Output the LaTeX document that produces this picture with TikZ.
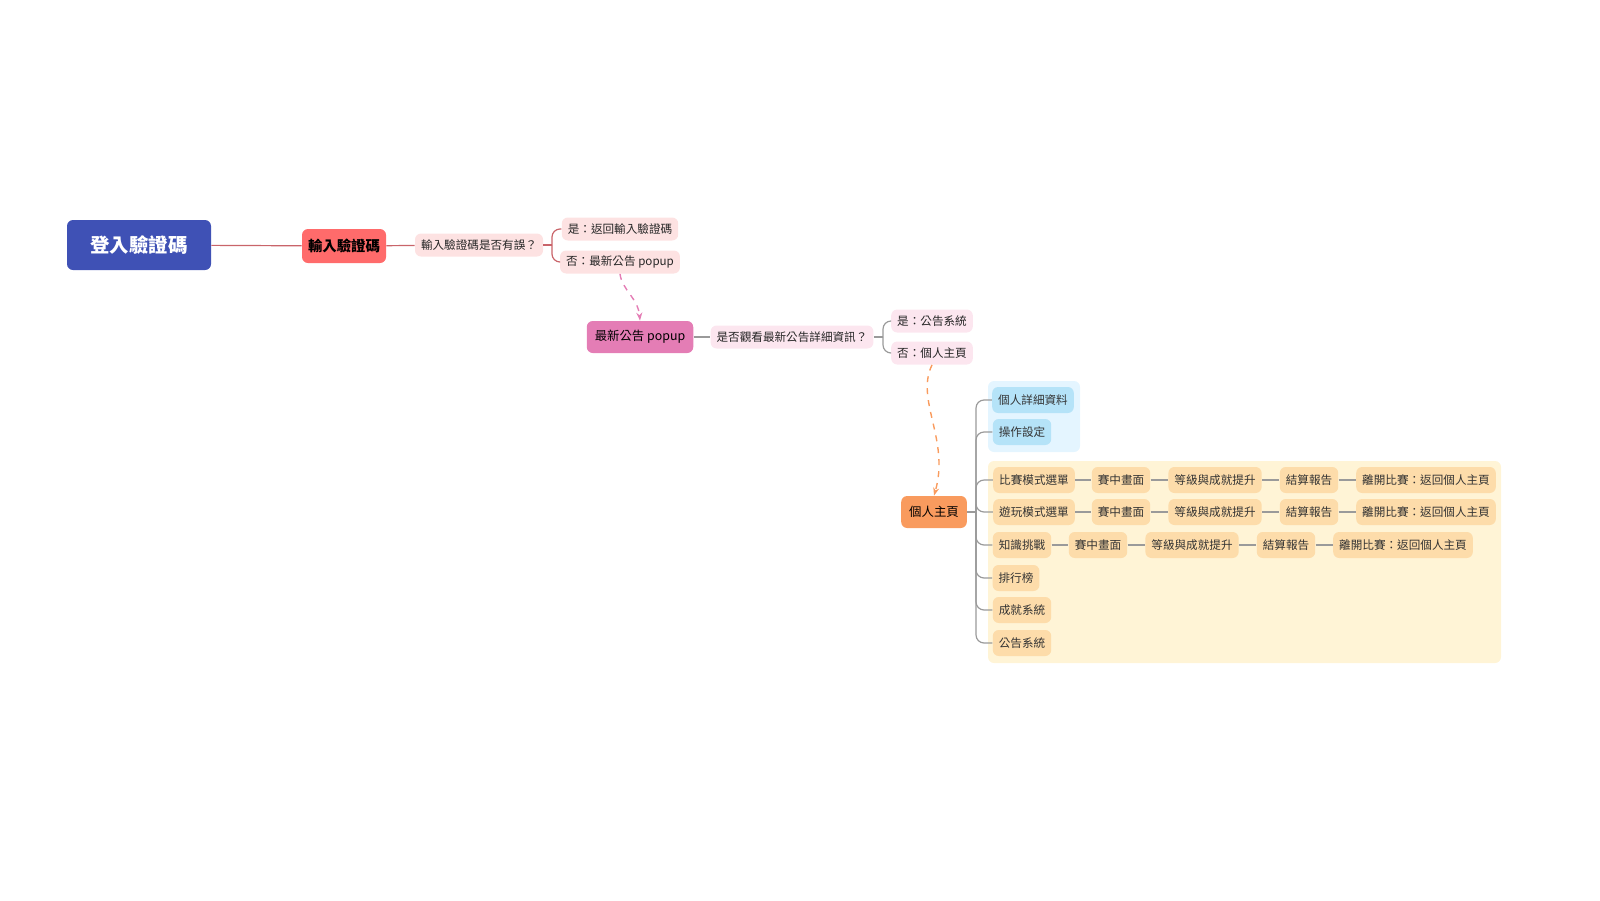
\documentclass[tikz,border=0pt]{standalone}
\usepackage{fontspec}
\setmainfont{Noto Sans CJK TC}
\usetikzlibrary{arrows.meta,positioning}
\definecolor{rootblue}{HTML}{3F51B5}
\definecolor{redmain}{HTML}{FF6B6B}
\definecolor{redlight}{HTML}{FDE2E2}
\definecolor{redline}{HTML}{C9646A}
\definecolor{pinkmain}{HTML}{E47DB5}
\definecolor{pinklight}{HTML}{FCE6EF}
\definecolor{orangemain}{HTML}{F99B5E}
\definecolor{orangelight}{HTML}{FDDCAA}
\definecolor{bluelight}{HTML}{B5E3F8}
\definecolor{blueregion}{HTML}{E4F5FF}
\definecolor{yellowregion}{HTML}{FFF4D6}
\definecolor{grayline}{HTML}{9A9A9A}
\tikzset{
    raw topic/.style={rectangle, rounded corners=3pt, align=center, inner xsep=3pt, inner ysep=0pt},
    root topic/.style={raw topic, fill=rootblue, text=white, font=\fontsize{9.7}{11}\selectfont\bfseries, minimum width=72pt, minimum height=25pt},
    main topic/.style={raw topic, fill=redmain, font=\fontsize{7.2}{9}\selectfont\bfseries, minimum height=17pt},
    sub red/.style={raw topic, fill=redlight, text=black!85, font=\fontsize{5.8}{7}\selectfont, minimum height=11.5pt},
    pink topic/.style={raw topic, fill=pinkmain, font=\fontsize{6.2}{7}\selectfont, minimum height=16pt, inner xsep=4pt},
    sub pink/.style={raw topic, fill=pinklight, text=black!85, font=\fontsize{5.8}{7}\selectfont, minimum height=11.5pt},
    orange topic/.style={raw topic, fill=orangemain, font=\fontsize{6.2}{7}\selectfont, minimum height=16pt, inner xsep=4pt},
    sub blue/.style={raw topic, fill=bluelight, text=black!80, font=\fontsize{5.8}{7}\selectfont, minimum height=13pt},
    sub orange/.style={raw topic, fill=orangelight, text=black!80, font=\fontsize{5.8}{7}\selectfont, minimum height=13pt},
    red link/.style={draw=redline, line width=0.6pt},
    gray link/.style={draw=grayline, line width=0.6pt},
    branch/.style={gray link, rounded corners=4pt}
}
\begin{document}
\begin{tikzpicture}[x=0.5pt, y=-0.5pt]
    \useasboundingbox (0,0) rectangle (1600,900);
    % regions
    \fill[blueregion, rounded corners=3pt] (988,381) rectangle (1080,452);
    \fill[yellowregion, rounded corners=3pt] (988,461) rectangle (1501,663);

    % first part
    \node[root topic] (login) at (139,245) {登入驗證碼};
    \node[main topic] (input) at (344,246) {輸入驗證碼};
    \node[sub red] (check) at (479,245) {輸入驗證碼是否有誤？};
    \node[sub red] (yes1) at (620,229) {是：返回輸入驗證碼};
    \node[sub red] (no1) at (620,262) {否：最新公告 popup};
    \draw[red link] (login) -- (input);
    \draw[red link] (input) -- (check);
    \coordinate (fork1) at (552,245);
    \draw[red link] (check) -- (fork1);
    \draw[red link, rounded corners=4pt] (fork1) |- (yes1.west);
    \draw[red link, rounded corners=4pt] (fork1) |- (no1.west);

    % popup
    \node[pink topic] (popup) at (640,337) {最新公告 popup};
    \node[sub pink] (view) at (792,337) {是否觀看最新公告詳細資訊？};
    \node[sub pink] (yes2) at (932,321) {是：公告系統};
    \node[sub pink] (no2) at (932,353) {否：個人主頁};
    \draw[gray link] (popup) -- (view);
    \coordinate (fork2) at (883,337);
    \draw[gray link] (view) -- (fork2);
    \draw[branch] (fork2) |- (yes2.west);
    \draw[branch] (fork2) |- (no2.west);
    \draw[pinkmain, line width=0.7pt, dashed, -{Stealth[length=4pt]}]
        (no1.south) .. controls (622,290) and (638,298) .. (popup.north);

    % home
    \node[orange topic] (home) at (934,512) {個人主頁};
    \draw[orangemain, line width=0.7pt, dashed, -{Stealth[length=4pt]}]
        (no2.south) .. controls (915,400) and (950,440) .. (home.north);
    \coordinate (trunk) at (976,512);
    \draw[gray link] (home) -- (trunk);

    \node[sub blue] (profile) at (1033,400) {個人詳細資料};
    \node[sub blue] (settings) at (1022,432) {操作設定};
    \node[sub orange] (match) at (1034,480) {比賽模式選單};
    \node[sub orange] (play) at (1034,512) {遊玩模式選單};
    \node[sub orange] (quiz) at (1022,545) {知識挑戰};
    \node[sub orange] (rank) at (1016,578) {排行榜};
    \node[sub orange] (achieve) at (1022,610) {成就系統};
    \node[sub orange] (news) at (1022,643) {公告系統};
    \foreach \n in {profile,settings,match,play,quiz,rank,achieve,news}
        \draw[branch] (trunk) |- (\n.west);

    % chains
    \foreach \r/\y/\a/\b/\c/\d in {match/480/1121/1215/1309/1426, play/512/1121/1215/1309/1426, quiz/545/1098/1192/1286/1403} {
        \node[sub orange] (\r-game) at (\a,\y) {賽中畫面};
        \node[sub orange] (\r-level) at (\b,\y) {等級與成就提升};
        \node[sub orange] (\r-report) at (\c,\y) {結算報告};
        \node[sub orange] (\r-leave) at (\d,\y) {離開比賽：返回個人主頁};
        \draw[gray link] (\r) -- (\r-game);
        \draw[gray link] (\r-game) -- (\r-level);
        \draw[gray link] (\r-level) -- (\r-report);
        \draw[gray link] (\r-report) -- (\r-leave);
    }
\end{tikzpicture}
\end{document}
